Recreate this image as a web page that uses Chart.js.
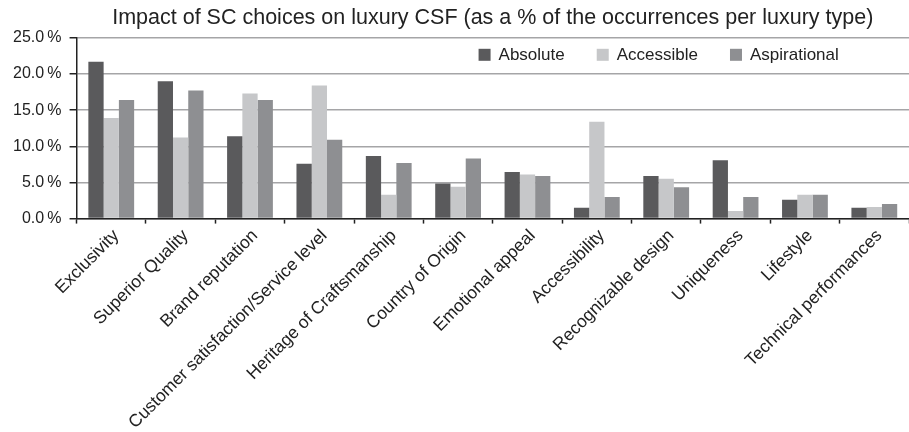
<!DOCTYPE html>
<html>
<head>
<meta charset="utf-8">
<script src="https://cdn.jsdelivr.net/npm/chart.js@4/dist/chart.umd.min.js"></script>
<style>
  html, body { margin: 0; padding: 0; background: #fff; }
  #wrap { width: 909px; height: 432px; }
</style>
</head>
<body>
<div id="wrap"><canvas id="chart"></canvas></div>
<script>
const categories = [
  'Exclusivity', 'Superior Quality', 'Brand reputation',
  'Customer satisfaction/Service level', 'Heritage of Craftsmanship',
  'Country of Origin', 'Emotional appeal', 'Accessibility',
  'Recognizable design', 'Uniqueness', 'Lifestyle', 'Technical performances'
];
const absolute     = [21.7, 19.0, 11.4, 7.6, 8.65, 4.85, 6.45, 1.5, 5.9, 8.05, 2.6, 1.5];
const accessible   = [13.9, 11.2, 17.3, 18.4, 3.3, 4.4, 6.1, 13.4, 5.5, 1.05, 3.3, 1.6];
const aspirational = [16.4, 17.7, 16.4, 10.9, 7.7, 8.3, 5.9, 3.0, 4.35, 3.0, 3.3, 2.0];
const yTicks = [0, 5, 10, 15, 20, 25];

const font = 'Liberation Sans, Arial, sans-serif';
Chart.defaults.font.family = font;
Chart.defaults.color = '#222';

// legend drawn inside the plot, one row, near the top right
const inlineLegend = {
  id: 'inlineLegend',
  afterDraw(chart) {
    const { ctx, chartArea } = chart;
    const box = 12, gap = 8, spacing = 32;
    let x = chartArea.left + 402;
    const y = chartArea.top + 17;
    ctx.save();
    ctx.font = '17px ' + font;
    ctx.textBaseline = 'middle';
    ctx.textAlign = 'left';
    chart.data.datasets.forEach(ds => {
      ctx.fillStyle = ds.backgroundColor;
      ctx.fillRect(x, y - box / 2, box, box);
      x += box + gap;
      ctx.fillStyle = '#222';
      ctx.fillText(ds.label, x, y + 1);
      x += ctx.measureText(ds.label).width + spacing;
    });
    ctx.restore();
  }
};

new Chart(document.getElementById('chart'), {
  type: 'bar',
  data: {
    labels: categories,
    datasets: [
      { label: 'Absolute', data: absolute, backgroundColor: '#5a5a5c' },
      { label: 'Accessible', data: accessible, backgroundColor: '#c6c7c9' },
      { label: 'Aspirational', data: aspirational, backgroundColor: '#8e8f92' }
    ]
  },
  options: {
    responsive: true,
    maintainAspectRatio: false,
    animation: false,
    layout: { padding: { left: 5, right: 0, top: 0, bottom: -3 } },
    datasets: { bar: { categoryPercentage: 0.66, barPercentage: 1.0 } },
    plugins: {
      title: {
        display: true,
        text: 'Impact of SC choices on luxury CSF (as a % of the occurrences per luxury type)',
        fullSize: false,
        font: { size: 21.5, weight: 'normal' },
        color: '#222',
        padding: { top: 5, bottom: 7 }
      },
      legend: { display: false },
      tooltip: { enabled: false }
    },
    scales: {
      x: {
        grid: {
          drawOnChartArea: false,
          offset: true,
          tickLength: 5,
          tickColor: '#222',
          tickWidth: 1.5
        },
        border: { color: '#222', width: 1.5 },
        ticks: {
          minRotation: 45,
          maxRotation: 45,
          autoSkip: false,
          padding: 2,
          labelOffset: 5,
          font: { size: 17.5 },
          color: '#222'
        }
      },
      y: {
        min: 0,
        max: 25,
        afterBuildTicks: (axis) => { axis.ticks = yTicks.map(v => ({ value: v })); },
        grid: {
          color: '#a5a5a7',
          lineWidth: 1.5,
          tickLength: 7,
          tickColor: '#222',
          tickWidth: 1.5
        },
        border: { color: '#222', width: 1.5 },
        ticks: {
          padding: 8,
          font: { size: 16 },
          color: '#222',
          callback: (v) => v.toFixed(1) + '\u2009%'
        }
      }
    }
  },
  plugins: [inlineLegend]
});
</script>
</body>
</html>
